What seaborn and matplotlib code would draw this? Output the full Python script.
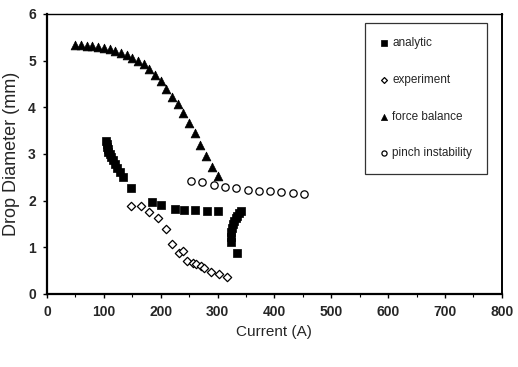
import numpy as np
import pandas as pd
import matplotlib
matplotlib.use("Agg")
import matplotlib.pyplot as plt
import seaborn as sns

# ---- data ----
analytic_x = [104, 105, 106, 107, 108, 110, 113, 116, 120, 124, 128, 134, 148,
              185, 200, 225, 241, 261, 281, 301,
              324, 323.5, 324, 325, 327, 329, 332, 335, 338, 341, 335]
analytic_y = [3.28, 3.22, 3.15, 3.10, 3.05, 3.00, 2.93, 2.86, 2.78, 2.70, 2.62, 2.50, 2.26,
              1.97, 1.91, 1.82, 1.80, 1.79, 1.78, 1.77,
              1.12, 1.22, 1.32, 1.42, 1.50, 1.57, 1.63, 1.68, 1.73, 1.77, 0.88]

experiment_x = [147, 165, 180, 195, 210, 220, 233, 240, 247, 256, 263, 271, 277, 289, 303, 317]
experiment_y = [1.89, 1.89, 1.76, 1.62, 1.39, 1.06, 0.87, 0.92, 0.71, 0.67, 0.64, 0.59, 0.56, 0.46, 0.43, 0.36]

force_x = [50, 60, 70, 80, 90, 100, 110, 120, 130, 140, 150, 160, 170, 180, 190,
           200, 210, 220, 230, 240, 250, 260, 270, 280, 290, 300]
force_y = [5.33, 5.33, 5.32, 5.31, 5.29, 5.27, 5.24, 5.21, 5.17, 5.12, 5.06, 5.00, 4.92,
           4.82, 4.70, 4.56, 4.40, 4.23, 4.06, 3.88, 3.67, 3.44, 3.20, 2.95, 2.71, 2.52]

pinch_x = [253, 273, 293, 313, 333, 353, 373, 392, 412, 432, 452]
pinch_y = [2.43, 2.39, 2.34, 2.29, 2.26, 2.23, 2.21, 2.20, 2.18, 2.16, 2.14]

series_names = ["analytic", "experiment", "force balance", "pinch instability"]
x_ticks = [0, 100, 200, 300, 400, 500, 600, 700, 800]
y_ticks = [0, 1, 2, 3, 4, 5, 6]

df = pd.concat([
    pd.DataFrame({"Current": analytic_x, "Diameter": analytic_y, "series": series_names[0]}),
    pd.DataFrame({"Current": experiment_x, "Diameter": experiment_y, "series": series_names[1]}),
    pd.DataFrame({"Current": force_x, "Diameter": force_y, "series": series_names[2]}),
    pd.DataFrame({"Current": pinch_x, "Diameter": pinch_y, "series": series_names[3]}),
], ignore_index=True)

sns.set_style("white")
plt.rcParams["font.family"] = ["Liberation Sans", "DejaVu Sans"]

fig = plt.figure(figsize=(5.18, 3.67), dpi=100)
ax = fig.add_axes([0.0907, 0.199, 0.878, 0.763])

styles = {
    "analytic": dict(marker="s", s=34, facecolor="black", edgecolor="black", linewidth=0.5),
    "experiment": dict(marker="D", s=18, facecolor="white", edgecolor="black", linewidth=0.9),
    "force balance": dict(marker="^", s=40, facecolor="black", edgecolor="black", linewidth=0.5),
    "pinch instability": dict(marker="o", s=28, facecolor="white", edgecolor="black", linewidth=0.9),
}
for name in series_names:
    sub = df[df["series"] == name]
    sns.scatterplot(data=sub, x="Current", y="Diameter", ax=ax, label=name, zorder=3,
                    **styles[name])

ax.set_xlim(0, 800)
ax.set_ylim(0, 6)
ax.set_xticks(x_ticks)
ax.set_yticks(y_ticks)
ax.set_xticks(np.arange(50, 800, 100), minor=True)
ax.tick_params(axis="both", which="major", direction="out", length=3, width=1,
               labelsize=10, color="black", pad=5)
ax.tick_params(axis="x", which="minor", direction="out", length=2, width=0.8, color="black")
ax.tick_params(bottom=True, left=True, which="both")
for lab in ax.get_xticklabels() + ax.get_yticklabels():
    lab.set_fontweight("bold")

for sp in ax.spines.values():
    sp.set_visible(True)
    sp.set_color("black")
ax.spines["left"].set_linewidth(1.6)
ax.spines["bottom"].set_linewidth(1.6)
ax.spines["top"].set_linewidth(1.0)
ax.spines["right"].set_linewidth(1.4)

ax.set_xlabel("Current (A)", fontsize=11, labelpad=4)
ax.set_ylabel("Drop Diameter (mm)", fontsize=13, labelpad=6)

leg = ax.legend(loc="upper left", bbox_to_anchor=(0.70, 0.968), frameon=True,
                fancybox=False, edgecolor="black", fontsize=8.5, labelspacing=2.1,
                handletextpad=0.3, handlelength=0.8, borderpad=1.2, markerscale=0.7,
                borderaxespad=0)
leg.get_frame().set_linewidth(0.9)

fig.savefig("out.png", dpi=100, facecolor="white")
